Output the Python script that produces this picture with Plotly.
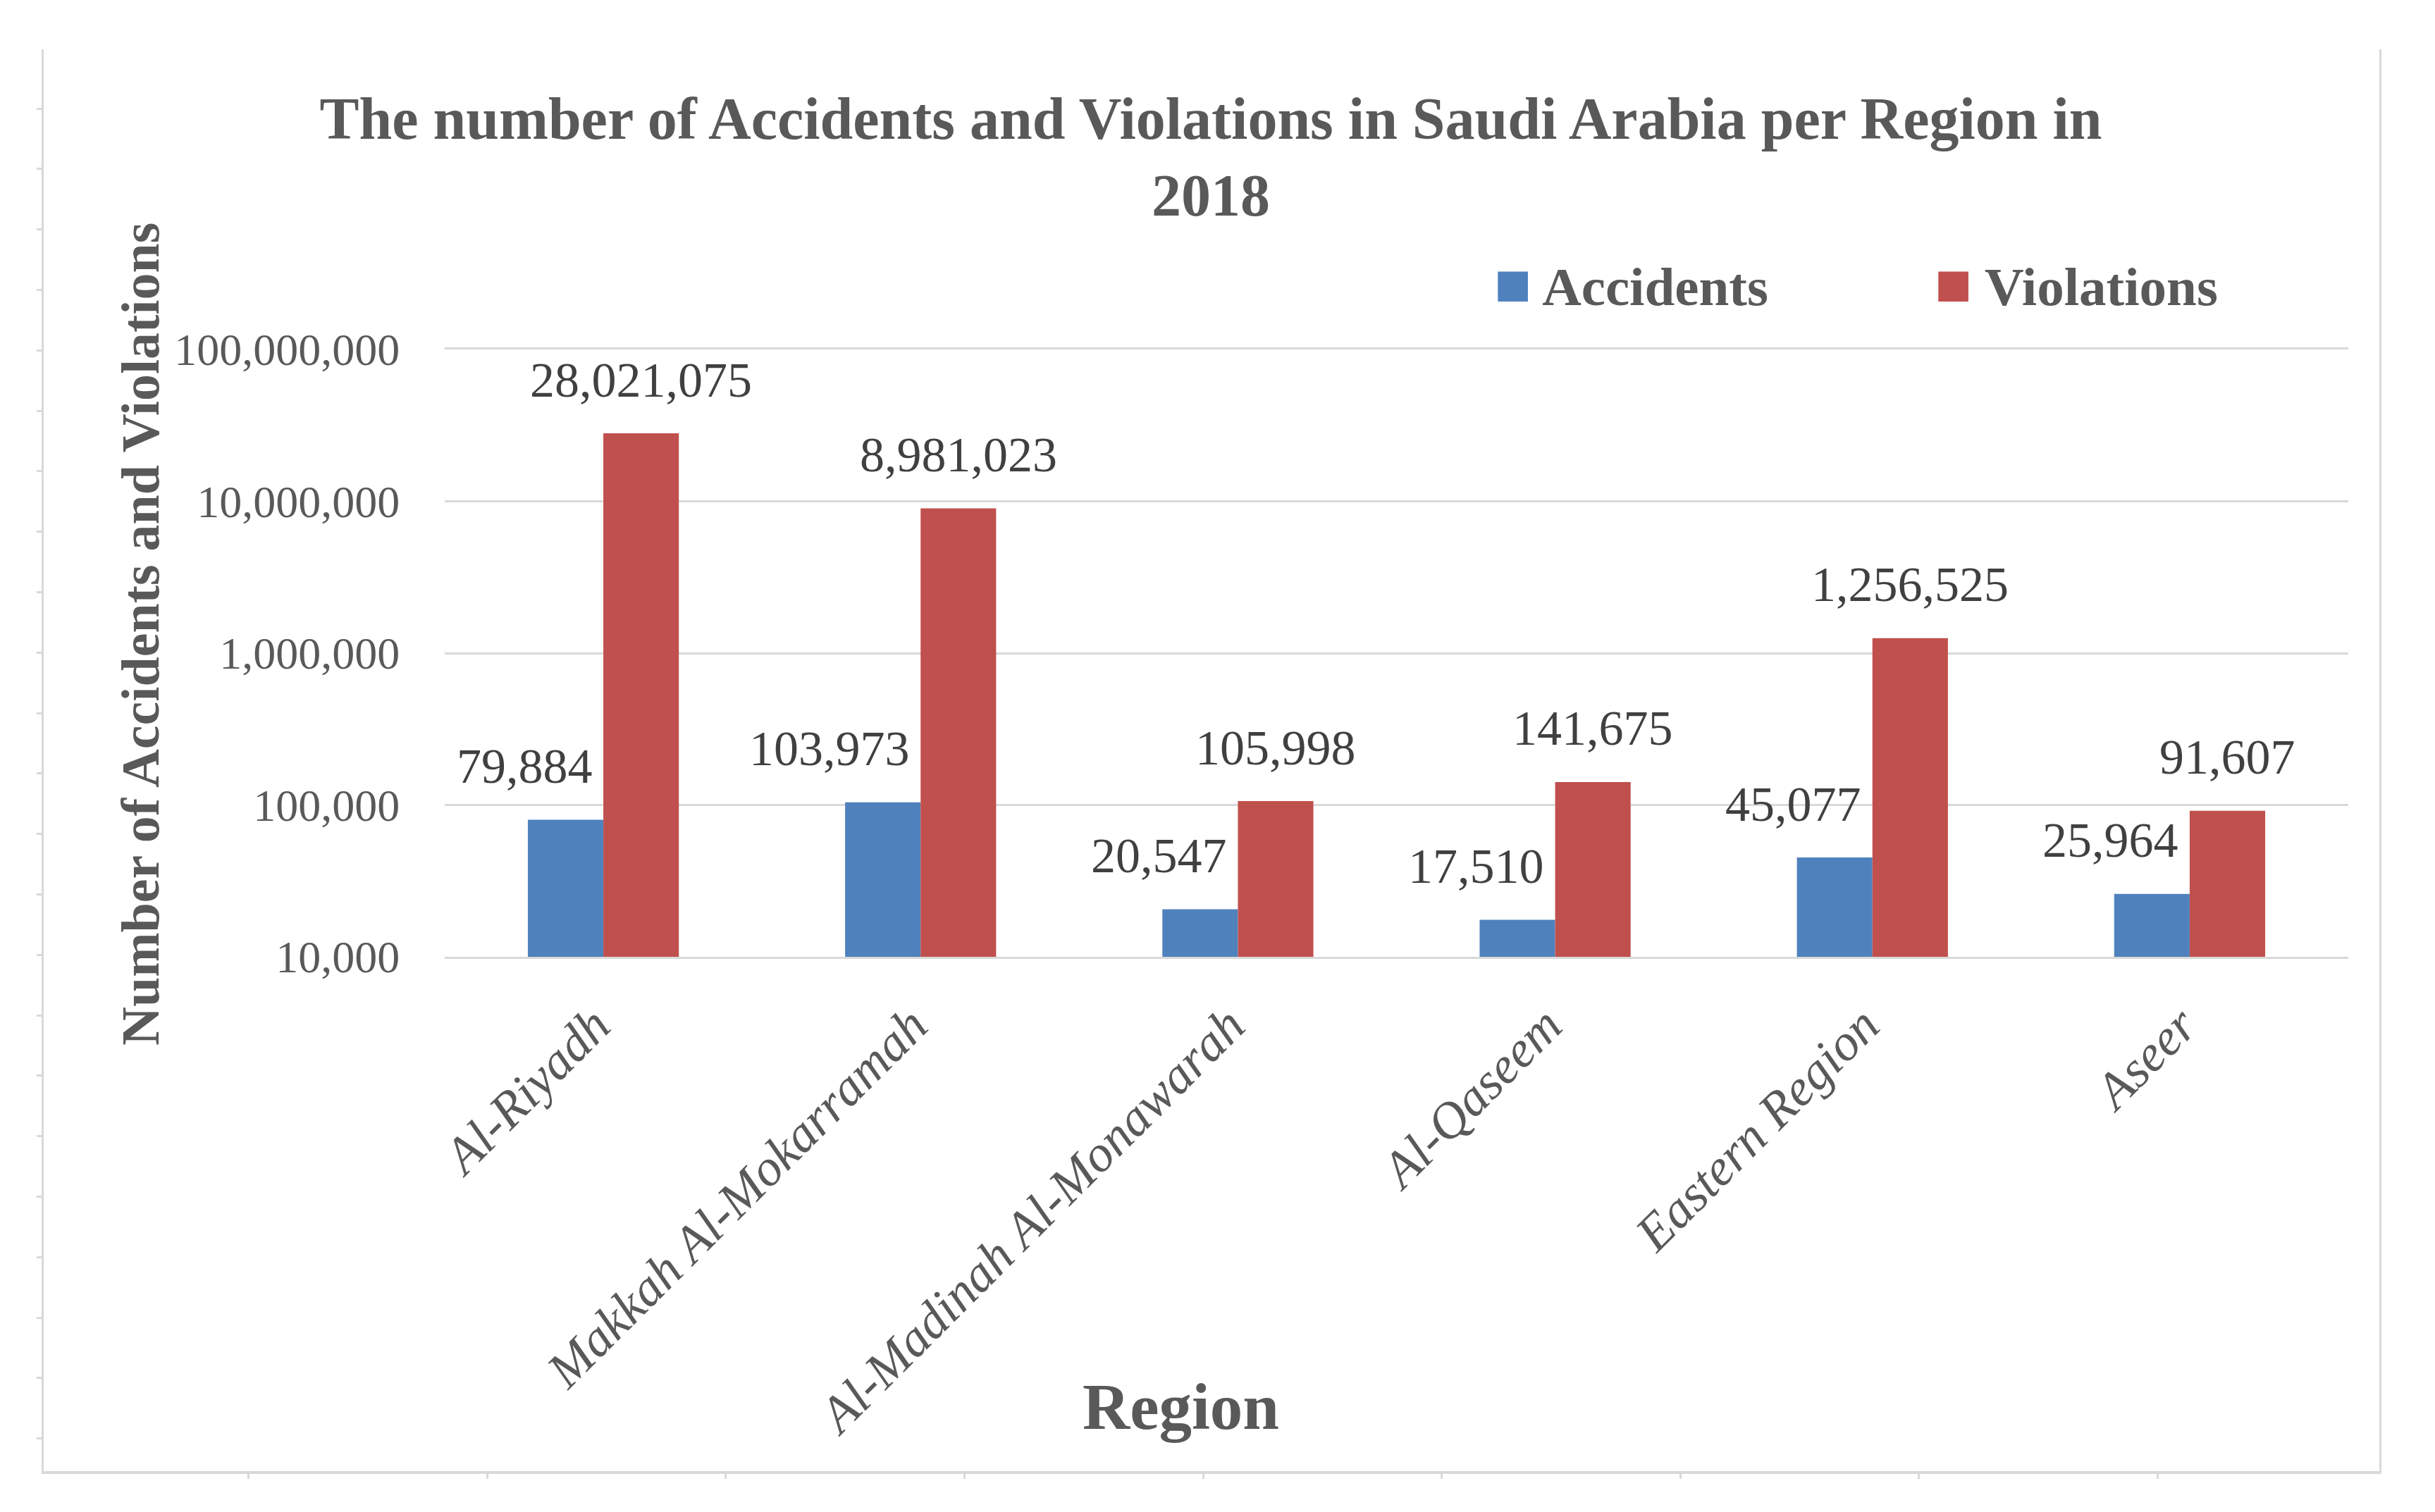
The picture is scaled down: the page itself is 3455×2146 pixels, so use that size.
import math
import plotly.graph_objects as go

# ---- data ----
regions = ["Al-Riyadh", "Makkah Al-Mokarramah", "Al-Madinah Al-Monawarah",
           "Al-Qaseem", "Eastern Region", "Aseer"]
accidents = [79884, 103973, 20547, 17510, 45077, 25964]
violations = [28021075, 8981023, 105998, 141675, 1256525, 91607]
series_names = ["Accidents", "Violations"]
y_tick_vals = [1e4, 1e5, 1e6, 1e7, 1e8]
y_tick_text = ["10,000", "100,000", "1,000,000", "10,000,000", "100,000,000"]
title_text = "The number of Accidents and Violations in Saudi Arabia per Region in<br>2018"
x_title = "Region"
y_title = "Number of Accidents and Violations"

# ---- style ----
# figure sized so the page (with the default 8px body margin) fits the window
PAGE_OFF = 8
FW, FH = 3435, 2124
FONT = "Liberation Serif"
BLUE = "#4F81BD"
RED = "#C0504D"
GREY_TXT = "#595959"
DARK_TXT = "#404040"
GRID = "#D9D9D9"
BARGAP = 0.524
HALF = (1 - BARGAP) / 4  # offset of each bar centre from category centre


def px_x(p):
    return (p - PAGE_OFF) / FW


def px_y(p):
    return 1 - (p - PAGE_OFF) / FH


fig = go.Figure()
fig.add_bar(x=regions, y=accidents, name=series_names[0], marker_color=BLUE,
            marker_line_width=0, showlegend=False)
fig.add_bar(x=regions, y=violations, name=series_names[1], marker_color=RED,
            marker_line_width=0, showlegend=False)
# empty trace that carries the outer frame axes
fig.add_scatter(x=[], y=[], xaxis="x2", yaxis="y2", showlegend=False, hoverinfo="skip")

annotations = []
for i in range(len(regions)):
    annotations.append(dict(
        x=i - 0.03, y=math.log10(accidents[i]), xref="x", yref="y",
        text=f"{accidents[i]:,}", showarrow=False, xanchor="right", yanchor="middle",
        yshift=76, font=dict(family=FONT, size=70, color=DARK_TXT)))
    annotations.append(dict(
        x=i + HALF, y=math.log10(violations[i]), xref="x", yref="y",
        text=f"{violations[i]:,}", showarrow=False, xanchor="center", yanchor="middle",
        yshift=76, font=dict(family=FONT, size=70, color=DARK_TXT)))

# axis titles
annotations.append(dict(
    x=px_x(199), y=px_y(900), xref="paper", yref="paper", text=f"<b>{y_title}</b>",
    textangle=-90, showarrow=False, xanchor="center", yanchor="middle",
    font=dict(family=FONT, size=76, color=GREY_TXT)))
annotations.append(dict(
    x=px_x(1675), y=px_y(1996), xref="paper", yref="paper", text=f"<b>{x_title}</b>",
    showarrow=False, xanchor="center", yanchor="middle",
    font=dict(family=FONT, size=93, color=GREY_TXT)))

# legend
for name, col, xpos in [(series_names[0], BLUE, 2118), (series_names[1], RED, 2743)]:
    annotations.append(dict(
        x=px_x(xpos), y=px_y(404), xref="paper", yref="paper",
        text=f'<span style="color:{col};font-size:88px">■</span><b> {name}</b>',
        showarrow=False, xanchor="left", yanchor="middle",
        font=dict(family=FONT, size=77, color=GREY_TXT)))

fig.update_layout(
    width=FW, height=FH,
    margin=dict(l=0, r=0, t=0, b=0, autoexpand=False),
    paper_bgcolor="white", plot_bgcolor="rgba(0,0,0,0)",
    barmode="group", bargap=BARGAP, bargroupgap=0,
    showlegend=False,
    title=dict(text=f"<b>{title_text}</b>", x=px_x(1718), xanchor="center",
               xref="paper", y=px_y(197), yref="container", yanchor="middle",
               font=dict(family=FONT, size=84, color=GREY_TXT)),
    font=dict(family=FONT, color=GREY_TXT),
    xaxis=dict(domain=[px_x(631), px_x(3332)], type="category",
               showline=True, mirror=True, linecolor=GRID, linewidth=3,
               ticks="outside", ticklen=22, tickcolor="rgba(0,0,0,0)",
               ticklabelshift=-12,
               tickangle=-45, showgrid=False, zeroline=False,
               tickfont=dict(family=FONT, size=73, color=GREY_TXT, style="italic")),
    yaxis=dict(domain=[px_y(1358), px_y(496)], type="log", range=[4, 8],
               tickvals=y_tick_vals, ticktext=y_tick_text,
               showgrid=True, gridcolor=GRID, gridwidth=3,
               ticks="outside", ticklen=50, tickcolor="rgba(0,0,0,0)",
               showline=False, zeroline=False,
               tickfont=dict(family=FONT, size=64, color=GREY_TXT)),
    xaxis2=dict(domain=[px_x(62), px_x(3376)], anchor="y2", range=[62, 3376],
                showline=True, linecolor=GRID, linewidth=4,
                ticks="outside", ticklen=7, tickwidth=3, tickcolor=GRID,
                tick0=352.6, dtick=338.6, showticklabels=False,
                showgrid=False, zeroline=False, fixedrange=True),
    yaxis2=dict(domain=[px_y(2088), px_y(70)], anchor="x2", range=[2088, 70],
                showline=True, mirror=True, linecolor=GRID, linewidth=3,
                ticks="outside", ticklen=7, tickwidth=3, tickcolor=GRID,
                tick0=154, dtick=85.8, showticklabels=False,
                showgrid=False, zeroline=False, fixedrange=True),
    annotations=annotations,
)

fig.write_html("out.html")
